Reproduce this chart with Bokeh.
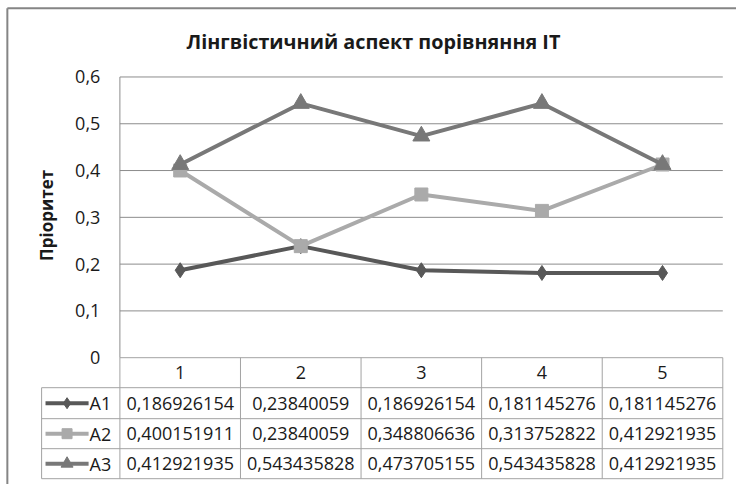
import math
from bokeh.plotting import figure
from bokeh.models import Range1d
from bokeh.core.properties import value
from bokeh.embed import file_html
from bokeh.resources import INLINE

# ---- data ----
categories = ["1", "2", "3", "4", "5"]
series_names = ["A1", "A2", "A3"]
A1 = [0.186926154, 0.23840059, 0.186926154, 0.181145276, 0.181145276]
A2 = [0.400151911, 0.23840059, 0.348806636, 0.313752822, 0.412921935]
A3 = [0.412921935, 0.543435828, 0.473705155, 0.543435828, 0.412921935]
y_ticks = [0, 0.1, 0.2, 0.3, 0.4, 0.5, 0.6]
y_tick_labels = ["0", "0,1", "0,2", "0,3", "0,4", "0,5", "0,6"]
title_text = "Лінгвістичний аспект порівняння IT"
y_label = "Пріоритет"

# ---- layout helpers (reference px -> data coords) ----
PX_PER_CAT = 123.2
PX_PER_UNIT = 483.33
def X(px):
    return 0.5 + (px - 122) / PX_PER_CAT
def Y(py):
    return (369 - py) / PX_PER_UNIT

W, H = 736, 484
FONT = value("Open Sans")
GRID = "#8c8c8c"
TABLE = "#a3a3a3"
TXT = "#1a1a1a"
colors = ["#585858", "#aaaaaa", "#787878"]
markers = ["diamond", "square", "triangle"]
msize = [15, 13, 17]
ksize = [11, 10, 12]

p = figure(width=W, height=H, output_backend="svg", toolbar_location=None,
           x_range=Range1d(X(0), X(752)), y_range=Range1d(Y(500), Y(0)),
           x_axis_type=None, y_axis_type=None, min_border=0,
           outline_line_color=None, background_fill_color="white")
p.grid.visible = False

xs = list(range(1, len(categories) + 1))
x_end = len(categories) + 0.5

# gridlines
for t in y_ticks[1:]:
    p.segment(x0=0.5, y0=t, x1=x_end, y1=t, line_color=GRID, line_width=1)

# plot left line
p.segment(x0=0.5, y0=y_ticks[-1], x1=0.5, y1=0, line_color=GRID, line_width=1)

# table geometry
row_tops = [0, Y(400), Y(432), Y(463)]
row_bottom = Y(494)
p.segment(x0=0.5, y0=0, x1=x_end, y1=0, line_color=TABLE, line_width=1)
for r in row_tops[1:] + [row_bottom]:
    p.segment(x0=X(42), y0=r, x1=x_end, y1=r, line_color=TABLE, line_width=1)
for i in range(len(categories) + 1):
    p.segment(x0=0.5 + i, y0=0, x1=0.5 + i, y1=row_bottom, line_color=TABLE, line_width=1)
p.segment(x0=X(42), y0=row_tops[1], x1=X(42), y1=row_bottom, line_color=TABLE, line_width=1)

# outer chart border (left & top visible)
p.segment(x0=X(7), y0=Y(8), x1=X(7), y1=Y(500), line_color="#858585", line_width=2)
p.segment(x0=X(7), y0=Y(8), x1=X(752), y1=Y(8), line_color="#858585", line_width=2)

# series
data = [A1, A2, A3]
for vals, c, m, s in zip(data, colors, markers, msize):
    p.line(xs, vals, line_color=c, line_width=4)
    p.scatter(xs, vals, marker=m, size=s, fill_color=c, line_color=c)

# y tick labels
p.text(x=[X(102)] * len(y_ticks), y=y_ticks, text=y_tick_labels, text_font=FONT,
       text_font_size="18px", text_align="right", text_baseline="middle", text_color=TXT)

# header row
hdr_y = (row_tops[0] + row_tops[1]) / 2
p.text(x=xs, y=[hdr_y] * len(xs), text=categories, text_font=FONT, text_font_size="18px",
       text_align="center", text_baseline="middle", text_color=TXT)

# data rows
bottoms = row_tops[2:] + [row_bottom]
for k, (vals, name) in enumerate(zip(data, series_names)):
    cy = (row_tops[k + 1] + bottoms[k]) / 2
    labels = [str(v).replace(".", ",") for v in vals]
    p.text(x=xs, y=[cy] * len(xs), text=labels, text_font=FONT, text_font_size="18px",
           text_align="center", text_baseline="middle", text_color=TXT)
    p.segment(x0=X(46), y0=cy, x1=X(90), y1=cy, line_color=colors[k], line_width=4)
    p.scatter([X(68)], [cy], marker=markers[k], size=ksize[k], fill_color=colors[k], line_color=colors[k])
    p.text(x=[X(91)], y=[cy], text=[name], text_font=FONT, text_font_size="18px",
           text_align="left", text_baseline="middle", text_color=TXT)

# title
p.text(x=[X(381)], y=[Y(42)], text=[title_text], text_font=FONT, text_font_size="19.8px",
       text_font_style="bold", text_align="center", text_baseline="middle", text_color=TXT)

# y axis label
p.text(x=[X(47)], y=[Y(222)], text=[y_label], text_font=FONT, text_font_size="17px",
       text_font_style="bold", text_align="center", text_baseline="middle", angle=math.pi / 2,
       text_color=TXT)

open("out.html", "w").write(file_html(p, INLINE))
